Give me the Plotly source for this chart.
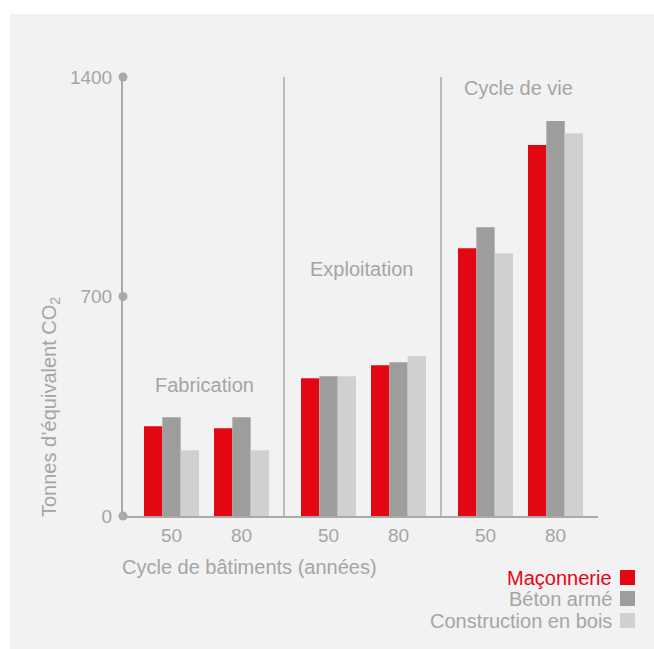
import plotly.graph_objects as go

# ---- data ----
phases = ["Fabrication", "Exploitation", "Cycle de vie"]
cycles = ["50", "80"]
series_names = ["Maçonnerie", "Béton armé", "Construction en bois"]
maconnerie = [286, 280, 439, 481, 854, 1183]
beton = [315, 315, 446, 490, 921, 1260]
bois = [210, 210, 446, 510, 838, 1221]
y_ticks = [0, 700, 1400]

colors = ["#e30613", "#9d9d9c", "#d0d0d0"]
txt = "#a5a5a5"
BG = "#f2f2f2"
FONT = "Liberation Sans"
FS = 20

# the page body margin is removed (post_script), so the figure fills the window
W, H = 654, 649
ml, mt = 123, 77
pw, ph = 475, 439
mr, mb = W - ml - pw, H - mt - ph

def py(ypix):  # window pixel y -> paper y
    return ((mt + ph) - ypix) / ph

def px(xpix):  # window pixel x -> paper x
    return (xpix - ml) / pw

first_center = 48.5
pair_step = 70
phase_step = 157

xs = []
for p in range(len(phases)):
    for c in range(len(cycles)):
        xs.append(first_center + p * phase_step + c * pair_step)

fig = go.Figure()
for name, vals, col in zip(series_names, [maconnerie, beton, bois], colors):
    fig.add_trace(go.Bar(x=xs, y=vals, name=name, marker_color=col,
                         marker_line_width=0, showlegend=False))

# axis dots
fig.add_trace(go.Scatter(x=[0] * len(y_ticks), y=y_ticks, mode="markers",
                         marker=dict(size=9, color="#aaaaaa"), cliponaxis=False,
                         showlegend=False, hoverinfo="skip"))

shapes = []
# white frame strips (top and left) around the grey panel
shapes.append(dict(type="rect", xref="paper", yref="paper",
                   x0=px(-20), x1=px(10), y0=py(700), y1=py(-20),
                   fillcolor="white", line_width=0, layer="below"))
shapes.append(dict(type="rect", xref="paper", yref="paper",
                   x0=px(-20), x1=px(700), y0=py(14), y1=py(-20),
                   fillcolor="white", line_width=0, layer="below"))
# separators
for p in range(1, len(phases)):
    xsep = (xs[2 * p - 1] + xs[2 * p]) / 2 - 1
    shapes.append(dict(type="line", xref="x", yref="paper", x0=xsep, x1=xsep,
                       y0=0, y1=1, line=dict(color="#aaaaaa", width=1.5)))

annotations = []
label_y = [417, 787, 1366]
for p, ph_name in enumerate(phases):
    cx = (xs[2 * p] + xs[2 * p + 1]) / 2 - 2
    annotations.append(dict(text=ph_name, x=cx, y=label_y[p], xref="x", yref="y",
                            showarrow=False, font=dict(family=FONT, size=FS, color=txt)))

# x title
annotations.append(dict(text="Cycle de bâtiments (années)", x=px(120), y=py(567),
                        xref="paper", yref="paper", xanchor="left", yanchor="middle",
                        showarrow=False, font=dict(family=FONT, size=FS, color=txt)))
# y title
annotations.append(dict(text="Tonnes d’équivalent CO<sub>2</sub>", x=px(50),
                        y=py(407), xref="paper", yref="paper",
                        xanchor="center", yanchor="middle",
                        textangle=-90, showarrow=False,
                        font=dict(family=FONT, size=FS, color=txt)))

# legend (text right, square on the right)
leg_rows = [577.5, 598.5, 620.5]
leg_text_colors = ["#e30613", txt, txt]
for name, col, tc, ry in zip(series_names, colors, leg_text_colors, leg_rows):
    yp = py(ry)
    annotations.append(dict(text=name, x=px(614), y=yp, xref="paper", yref="paper",
                            xanchor="right", yanchor="middle", showarrow=False,
                            font=dict(family=FONT, size=FS, color=tc)))
    shapes.append(dict(type="rect", xref="paper", yref="paper",
                       x0=px(620), x1=px(635),
                       y0=yp - 7.5 / ph, y1=yp + 7.5 / ph,
                       fillcolor=col, line_width=0))

fig.update_layout(
    width=W, height=H,
    margin=dict(l=ml, r=mr, t=mt, b=mb),
    paper_bgcolor=BG, plot_bgcolor=BG,
    barmode="group", bargap=1 - 55 / pair_step, bargroupgap=0,
    shapes=shapes, annotations=annotations,
    font=dict(family=FONT, size=FS, color=txt),
    xaxis=dict(range=[0, pw], tickvals=xs, ticktext=cycles * len(phases),
               showline=True, linecolor="#aaaaaa", linewidth=2, showgrid=False,
               zeroline=False, ticks="outside", ticklen=1, tickcolor="rgba(0,0,0,0)",
               tickfont=dict(family=FONT, size=19, color=txt), fixedrange=True),
    yaxis=dict(range=[0, 1400], tickvals=y_ticks, showline=True, linecolor="#aaaaaa",
               linewidth=2, showgrid=False, zeroline=False, ticks="outside", ticklen=5,
               tickcolor="rgba(0,0,0,0)", tickfont=dict(family=FONT, size=19, color=txt),
               fixedrange=True),
)

fig.write_html("out.html", config={"displayModeBar": False},
               post_script="document.body.style.margin='0';document.body.style.overflow='hidden';")
